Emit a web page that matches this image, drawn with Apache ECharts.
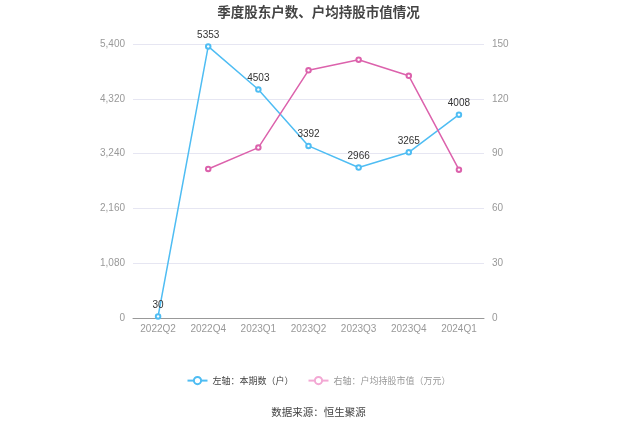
<!DOCTYPE html>
<html><head><meta charset="utf-8">
<script src="https://cdn.jsdelivr.net/npm/echarts@6/dist/echarts.min.js"></script>
<style>html,body{margin:0;padding:0;background:#fff}#c{width:637px;height:431px}</style>
</head><body><div id="c"></div>
<script>
const categories = ['2022Q2','2022Q4','2023Q1','2023Q2','2023Q3','2023Q4','2024Q1'];
const holders = [30, 5353, 4503, 3392, 2966, 3265, 4008];
const avgValue = [null, 81.6, 93.3, 135.6, 141.4, 132.6, 81.2];
const leftTicks = {min: 0, max: 5400, interval: 1080};
const rightTicks = {min: 0, max: 150, interval: 30};
const blue = '#4fbdf3', pink = '#dc62ac';
const chart = echarts.init(document.getElementById('c'));
chart.setOption({
  animation: false,
  title: {text: '季度股东户数、户均持股市值情况', left: 'center', top: 0,
    textStyle: {fontSize: 13.5, fontWeight: 'bold', color: '#444', fontFamily: 'Noto Sans CJK SC'}},
  grid: {left: 133, right: 153, top: 44, bottom: 113},
  legend: {top: 371, left: 'center', itemWidth: 20, itemHeight: 9, itemGap: 14,
    textStyle: {fontSize: 9, color: '#444', fontFamily: 'Noto Sans CJK SC'},
    data: [{name: '左轴：本期数（户）'},
      {name: '右轴：户均持股市值（万元）', textStyle: {color: '#999'},
        itemStyle: {color: '#f3a8d4', borderColor: '#f3a8d4'}, lineStyle: {color: '#f3a8d4'}}]},
  graphic: [{type: 'text', left: 'center', top: 407,
    style: {text: '数据来源：恒生聚源', fontSize: 10.5, fill: '#444', fontFamily: 'Noto Sans CJK SC'}}],
  xAxis: {type: 'category', data: categories, boundaryGap: true,
    axisLine: {lineStyle: {color: '#999'}},
    axisTick: {alignWithLabel: true, lineStyle: {color: '#999'}},
    axisLabel: {color: '#999', fontSize: 10, margin: 6}},
  yAxis: [
    {type: 'value', min: leftTicks.min, max: leftTicks.max, interval: leftTicks.interval,
      axisLabel: {color: '#999', fontSize: 10, formatter: v => v.toLocaleString('en-US')},
      splitLine: {lineStyle: {color: '#e6e6f2'}}, axisLine: {show: false}, axisTick: {show: false}},
    {type: 'value', min: rightTicks.min, max: rightTicks.max, interval: rightTicks.interval,
      axisLabel: {color: '#999', fontSize: 10},
      splitLine: {show: false}, axisLine: {show: false}, axisTick: {show: false}}
  ],
  series: [
    {name: '左轴：本期数（户）', type: 'line', yAxisIndex: 0, data: holders,
      symbol: 'emptyCircle', symbolSize: 4.5, color: blue, lineStyle: {width: 1.5, color: blue},
      label: {show: true, position: 'top', distance: 3, color: '#333', fontSize: 10}},
    {name: '右轴：户均持股市值（万元）', type: 'line', yAxisIndex: 1, data: avgValue,
      symbol: 'emptyCircle', symbolSize: 4.5, color: pink, lineStyle: {width: 1.5, color: pink}}
  ]
});
</script></body></html>
